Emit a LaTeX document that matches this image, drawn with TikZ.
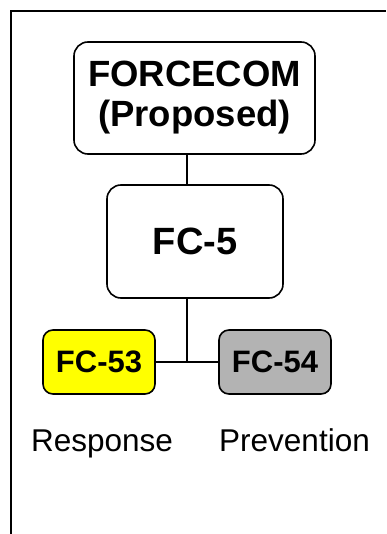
\documentclass[tikz,border=0pt]{standalone}
\usepackage{fontspec}
\setmainfont{Liberation Sans}
\usetikzlibrary{positioning}

\definecolor{fcyellow}{HTML}{FFFF00}
\definecolor{fcgray}{HTML}{B3B3B3}

\begin{document}
\begin{tikzpicture}[x=1pt, y=-1pt,
    unit/.style={draw, line width=1.6pt, rounded corners=14pt, align=center,
                 inner sep=0pt, font=\bfseries},
    subunit/.style={unit, rounded corners=10pt, minimum width=112pt,
                    minimum height=64pt, font=\bfseries\fontsize{31}{35}\selectfont},
    caption/.style={anchor=base, font=\fontsize{31.5}{35}\selectfont},
    link/.style={line width=1.6pt}]
    \useasboundingbox (0,0) rectangle (386,534);
    % frame
    \draw[line width=2.2pt] (11,534) -- (11,11) -- (386,11);

    \node[unit, minimum width=241pt, minimum height=112pt,
          font=\bfseries\fontsize{36.5}{40}\selectfont] (hq) at (194.5,98)
          {FORCECOM\\(Proposed)};
    \node[unit, minimum width=176pt, minimum height=113pt,
          font=\bfseries\fontsize{38}{42}\selectfont] (fc5) at (195,241.5) {FC-5};
    \node[subunit, fill=fcyellow] (fc53) at (99,362) {FC-53};
    \node[subunit, fill=fcgray] (fc54) at (275,362) {FC-54};

    \node[caption] (resp) at (102,451) {Response};
    \node[caption] (prev) at (294.5,451) {Prevention};

    \coordinate (jn) at (187,362);
    \draw[link] (hq.south -| jn) -- (fc5.north -| jn);
    \draw[link] (fc5.south -| jn) -- (jn);
    \draw[link] (fc53) -- (fc54);
\end{tikzpicture}
\end{document}
